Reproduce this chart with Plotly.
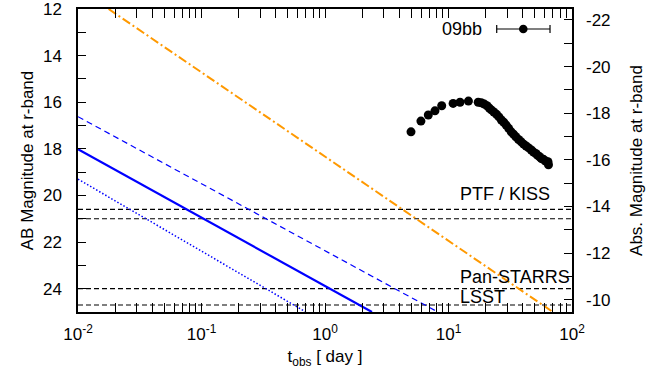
import plotly.graph_objects as go

# ---------------- data ----------------
# SN 2009bb r-band light curve (observed days, AB mag)
sn_t = [4.97, 5.98, 6.86, 7.77, 8.81, 10.9, 12.4, 14.5, 17.4,
        18.4, 19.5, 20.5, 21.4, 22.2, 23.3, 24.5, 25.6, 26.8, 28.0,
        29.3, 30.7, 32.2, 33.6, 35.1, 36.9, 38.8, 40.6, 42.5, 44.6,
        46.8, 48.8, 50.9, 52.7, 54.7, 56.5, 58.7, 61.0, 63.9, 64.5]
sn_m = [17.27, 16.81, 16.55, 16.37, 16.15, 16.05, 16.00, 15.95, 16.00,
        16.02, 16.08, 16.15, 16.25, 16.33, 16.42, 16.52, 16.63, 16.76, 16.86,
        16.98, 17.12, 17.27, 17.37, 17.48, 17.60, 17.70, 17.80, 17.88, 17.96,
        18.05, 18.14, 18.20, 18.28, 18.34, 18.42, 18.45, 18.52, 18.55, 18.68]

# model light curves (t_obs [day], AB mag)
orange_t = [0.0177, 70.0]
orange_m = [12.0, 25.0]
blue_dash_t = [0.01, 8.2]
blue_dash_m = [16.62, 25.0]
blue_solid_t = [0.01, 2.4]
blue_solid_m = [18.02, 25.0]
blue_dot_t = [0.01, 0.7]
blue_dot_m = [19.3, 25.0]

# survey limiting magnitudes
limit_mags = [20.6, 21.0, 24.0, 24.7]
limit_t = [0.01, 100.0]
survey_labels = ["PTF / KISS", "Pan-STARRS", "LSST"]
survey_label_m = [19.94, 23.5, 24.36]

# distance modulus linking the two y axes
DM = 34.47

x_tickvals = [0.01, 0.1, 1, 10, 100]
x_ticktext = ["10<sup>-2</sup>", "10<sup>-1</sup>", "10<sup>0</sup>", "10<sup>1</sup>", "10<sup>2</sup>"]
y_tickvals = list(range(12, 26))
y_ticktext = [str(v) if v % 2 == 0 and v < 25 else "" for v in y_tickvals]
y2_tickvals = list(range(-22, -9))
y2_ticktext = [str(v) if v % 2 == 0 else "" for v in y2_tickvals]

# ---------------- figure ----------------
FONT = "Liberation Sans, Arial, sans-serif"
fig = go.Figure()

for v in limit_mags:
    fig.add_trace(go.Scatter(x=limit_t, y=[v, v], mode="lines",
                             line=dict(color="black", width=1.2, dash="5px,3px"),
                             showlegend=False, hoverinfo="skip"))

fig.add_trace(go.Scatter(x=orange_t, y=orange_m, mode="lines",
                         line=dict(color="#ff9900", width=2, dash="9px,3px,2px,3px"),
                         showlegend=False))
fig.add_trace(go.Scatter(x=blue_dash_t, y=blue_dash_m, mode="lines",
                         line=dict(color="#0000ff", width=1.2, dash="6px,4px"),
                         showlegend=False))
fig.add_trace(go.Scatter(x=blue_solid_t, y=blue_solid_m, mode="lines",
                         line=dict(color="#0000ff", width=2.2),
                         showlegend=False))
fig.add_trace(go.Scatter(x=blue_dot_t, y=blue_dot_m, mode="lines",
                         line=dict(color="#0000ff", width=1.5, dash="1.5px,2px"),
                         showlegend=False))
fig.add_trace(go.Scatter(x=sn_t, y=sn_m, mode="markers",
                         marker=dict(color="black", size=9),
                         showlegend=False))
# empty trace registering the right-hand (absolute magnitude) axis
fig.add_trace(go.Scatter(x=[], y=[], yaxis="y2", showlegend=False))

# legend sample (09bb with error bar symbol) drawn in paper coordinates
ly = 0.934
fig.add_shape(type="line", xref="paper", yref="paper", x0=0.8476, x1=0.9555, y0=ly, y1=ly,
              line=dict(color="black", width=1.2))
for xc in (0.8476, 0.9555):
    fig.add_shape(type="line", xref="paper", yref="paper", x0=xc, x1=xc,
                  y0=ly - 0.013, y1=ly + 0.013, line=dict(color="black", width=1.2))
fig.add_shape(type="circle", xref="paper", yref="paper", xsizemode="pixel", ysizemode="pixel",
              xanchor=0.9014, yanchor=ly, x0=-4.3, x1=4.3, y0=-4.3, y1=4.3,
              fillcolor="black", line=dict(color="black", width=0))
fig.add_annotation(text="09bb", xref="paper", yref="paper", x=0.822, y=ly,
                   xanchor="right", yanchor="middle", showarrow=False,
                   font=dict(family=FONT, size=18, color="black"))

for lab, m in zip(survey_labels, survey_label_m):
    fig.add_annotation(text=lab, xref="paper", yref="y", x=0.769, y=m,
                       xanchor="left", yanchor="middle", showarrow=False,
                       font=dict(family=FONT, size=18, color="black"))

fig.update_layout(
    width=667, height=375,
    margin=dict(l=78, r=95, t=9, b=63),
    paper_bgcolor="white", plot_bgcolor="white",
    font=dict(family=FONT, size=17, color="black"),
    xaxis=dict(type="log", range=[-2, 2], tickvals=x_tickvals, ticktext=x_ticktext,
               ticks="inside", ticklen=9, tickwidth=1, tickcolor="black",
               showline=True, linecolor="black", linewidth=1.5, mirror="allticks",
               showgrid=False, zeroline=False, ticklabelstandoff=6, automargin=False,
               ticklabeloverflow="allow",
               minor=dict(ticks="inside", ticklen=4.5, tickwidth=1, tickcolor="black",
                          tickvals=[k * 10 ** e for e in (-2, -1, 0, 1) for k in range(2, 10)],
                          showgrid=False),
               title=dict(text="t<sub>obs</sub> [ day ]", standoff=7,
                          font=dict(family=FONT, size=17))),
    yaxis=dict(range=[25, 11.9999], tickvals=y_tickvals, ticktext=y_ticktext,
               ticks="inside", ticklen=8, tickwidth=1, tickcolor="black",
               showline=True, linecolor="black", linewidth=1.5, mirror=True,
               showgrid=False, zeroline=False, ticklabelstandoff=11, automargin=False,
               ticklabeloverflow="allow",
               title=dict(text="AB Magnitude at r-band", standoff=5,
                          font=dict(family=FONT, size=17))),
    yaxis2=dict(overlaying="y", side="right", range=[25 - DM, 11.9999 - DM],
                tickvals=y2_tickvals, ticktext=y2_ticktext,
                ticks="inside", ticklen=8, tickwidth=1, tickcolor="black",
                showline=False, showgrid=False, zeroline=False, ticklabelstandoff=13,
                automargin=False, ticklabeloverflow="allow",
                title=dict(text="Abs. Magnitude at r-band", standoff=20,
                           font=dict(family=FONT, size=17))),
)

fig.write_html("out.html", config={"displayModeBar": False},
               post_script="document.body.style.margin='0';")
